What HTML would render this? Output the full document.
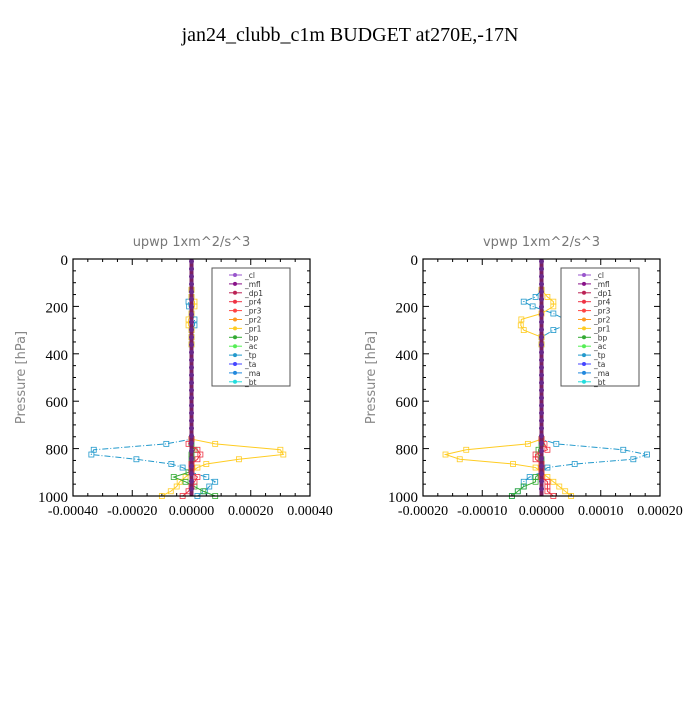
<!DOCTYPE html>
<html><head><meta charset="utf-8"><style>
body{margin:0;background:#fff;width:700px;height:700px;overflow:hidden}
svg text{font-family:"DejaVu Sans",sans-serif}
</style></head><body>
<svg id="s" width="700" height="700" xmlns="http://www.w3.org/2000/svg">
<text x="350" y="41" text-anchor="middle" font-family="Liberation Serif" font-size="20" style="font-family:'Liberation Serif',serif">jan24_clubb_c1m  BUDGET at270E,-17N</text>
</svg>
<script>
const pressures=[0,760,780,805,825,845,865,880,900,920,940,960,980,1000];
const upTp=[0,0,-0.000085,-0.00033,-0.000338,-0.000186,-0.000068,-0.00003,0,0.00005,0.00008,0.00006,0.000045,0.00002];
const upPr1=[0,0,0.00008,0.0003,0.00031,0.00016,0.00005,0.00002,0,-0.00002,-0.00004,-0.00005,-0.00007,-0.0001];
const upBp=[0,0,0,0.00001,0,0,0,0,-0.00001,-0.00006,-0.00002,0.00001,0.00004,0.00008];
const upPr4=[0,0,-0.00001,0.00002,0.00003,0.00002,0,0,0,0.00002,0.00001,0,-0.00001,-0.00003];
const vpTp=[0,0,0.000025,0.000138,0.000178,0.000155,0.000056,0.00001,0,-0.00002,-0.00003,-0.00003,-0.00004,-0.00005];
const vpPr1=[0,0,-0.000023,-0.000127,-0.000162,-0.000138,-0.000048,-0.00001,0,0.00001,0.00002,0.00003,0.00004,0.00005];
const vpBp=[0,0,0,-0.000005,-0.000005,0,0,0,0,-0.00001,-0.00001,-0.00003,-0.00004,-0.00005];
const vpPr4=[0,0,0.000005,0.00001,-0.00001,-0.00001,0,0,0,0,0.00001,0.00001,0.00001,0.00002];
const upperP=[0,130,160,180,200,230,255,280,300,330,360];
const upUpTp=[0,0,0,-0.00001,-0.000008,0,0.00001,0.00001,0,0,0];
const upUpPr1=[0,0,0,0.00001,0.00001,0,-0.00001,-0.00001,0,0,0];
const vpUpTp=[0,0,-0.00001,-0.00003,-0.000015,0.00002,0.00004,0.00004,0.00002,0,0];
const vpUpPr1=[0,0,0.00001,0.00002,0.00002,0,-0.000034,-0.000035,-0.00003,0,0];
const upTicks=["-0.00040","-0.00020","0.00000","0.00020","0.00040"];
const vpTicks=["-0.00020","-0.00010","0.00000","0.00010","0.00020"];
const yTicks=[0,200,400,600,800,1000];
const legendNames=["_cl","_mfl","_dp1","_pr4","_pr3","_pr2","_pr1","_bp","_ac","_tp","_ta","_ma","_bt"];
const legendColors=["#9955cc","#881188","#bb2255","#ee3344","#ff4444","#ff9922","#ffcc22","#33aa33","#55ee55","#2299cc","#4444ff","#2288dd","#22dddd"];
const S=document.getElementById('s');
const NS="http://www.w3.org/2000/svg";
function mk(t,a,p){const e=document.createElementNS(NS,t);for(const k in a)e.setAttribute(k,a[k]);(p||S).appendChild(e);return e;}
function panel(L,R,xmax,title,ticks,series,name){
 const T=259,B=496;
 const g=mk('g',{});
 
 
 const xs=v=>(L+R)/2+v/xmax*(R-L)/2, ys=p=>T+p/1000*(B-T);
 const tt=mk('text',{x:(L+R)/2,y:246,'text-anchor':'middle','font-size':13,fill:'#777'},g);tt.textContent=title;
 
 
 const yl=mk('text',{x:0,y:0,'text-anchor':'middle','font-size':13,fill:'#888',transform:`translate(${L-48},${(T+B)/2}) rotate(-90)`},g);yl.textContent="Pressure  [hPa]";
 
 
 for(let i=0;i<=20;i++){const y=ys(i*50);const len=i%4==0?6:3;mk('line',{x1:L,x2:L+len,y1:y,y2:y,stroke:'#000'},g);mk('line',{x1:R,x2:R-len,y1:y,y2:y,stroke:'#000'},g);}
 yTicks.forEach(p=>{const t=mk('text',{x:L-5,y:ys(p)+6,'text-anchor':'end','font-size':15,style:"font-family:'Liberation Serif',serif"},g);t.textContent=p;
 
 });
 ticks.forEach((s,i)=>{const x=L+i*(R-L)/4;const t=mk('text',{x:x,y:B+19,'text-anchor':'middle','font-size':14,style:"font-family:'Liberation Serif',serif"},g);t.textContent=s;
 
 
 if(i>0&&i<4){mk('line',{x1:x,x2:x,y1:B,y2:B-6,stroke:'#000'},g);mk('line',{x1:x,x2:x,y1:T,y2:T+6,stroke:'#000'},g);}
 for(let k=1;k<4&&i<4;k++){const xm=x+k*(R-L)/16;mk('line',{x1:xm,x2:xm,y1:B,y2:B-3,stroke:'#000'},g);mk('line',{x1:xm,x2:xm,y1:T,y2:T+3,stroke:'#000'},g);}
 });
 series.forEach(s=>{const pts=s.v.map((v,i)=>xs(v)+','+ys(s.p[i])).join(' ');
 const l=mk('polyline',{points:pts,fill:'none',stroke:s.c,'stroke-width':1,'stroke-dasharray':s.d||''},g);
 
 
 s.v.forEach((v,i)=>{if(s.p[i]>0)mk('rect',{x:xs(v)-2.5,y:ys(s.p[i])-2.5,width:5,height:5,fill:'none',stroke:s.c,'stroke-width':0.8},g);});});
 const z=mk('line',{x1:xs(0),x2:xs(0),y1:T,y2:B,stroke:'#7a2060','stroke-width':4},g);
 
 
 for(let p=10;p<=1000;p+=32){mk('circle',{cx:xs(0),cy:ys(p),r:2.5,fill:'#6a2a8a'},g);}
 mk('rect',{x:L,y:T,width:R-L,height:B-T,fill:'none',stroke:'#000','stroke-width':1.2},g);
 const lx=L+(name=='upwp-panel'?139:138),ly=268;
 const lg=mk('g',{},g);
 
 
 mk('rect',{x:lx,y:ly,width:78,height:118,fill:'#fff',stroke:'#555'},lg);
 legendNames.forEach((n,i)=>{const y=ly+7+i*8.9;mk('line',{x1:lx+17,x2:lx+30,y1:y,y2:y,stroke:legendColors[i]},lg);mk('circle',{cx:lx+23,cy:y,r:2,fill:legendColors[i]},lg);
 const t=mk('text',{x:lx+33,y:y+3,'font-size':7.5,fill:'#333'},lg);t.textContent=n;
 
 });
}
panel(73,310,0.0004,"upwp   1xm^2/s^3",upTicks,[
 {n:'tp',p:pressures,v:upTp,c:'#2299cc',d:'6,2,1,2'},{n:'pr1',p:pressures,v:upPr1,c:'#ffcc22'},
 {n:'bp',p:pressures,v:upBp,c:'#33aa33'},{n:'pr4',p:pressures,v:upPr4,c:'#ee3344'},
 {n:'tp-upper',p:upperP,v:upUpTp,c:'#2299cc',d:'6,2,1,2'},{n:'pr1-upper',p:upperP,v:upUpPr1,c:'#ffcc22'}],'upwp-panel');
panel(423,660,0.0002,"vpwp   1xm^2/s^3",vpTicks,[
 {n:'tp',p:pressures,v:vpTp,c:'#2299cc',d:'6,2,1,2'},{n:'pr1',p:pressures,v:vpPr1,c:'#ffcc22'},
 {n:'bp',p:pressures,v:vpBp,c:'#33aa33'},{n:'pr4',p:pressures,v:vpPr4,c:'#ee3344'},
 {n:'tp-upper',p:upperP,v:vpUpTp,c:'#2299cc',d:'6,2,1,2'},{n:'pr1-upper',p:upperP,v:vpUpPr1,c:'#ffcc22'}],'vpwp-panel');
</script>
</body></html>
